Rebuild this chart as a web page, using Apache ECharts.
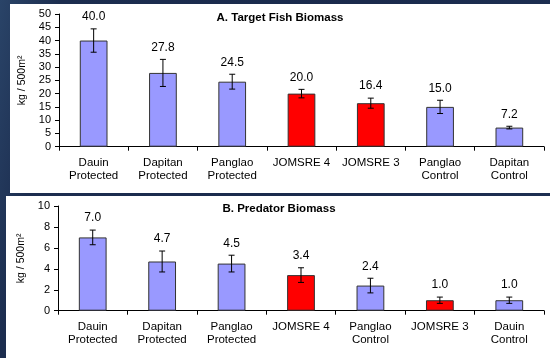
<!DOCTYPE html>
<html><head><meta charset="utf-8">
<script src="https://cdn.jsdelivr.net/npm/echarts@6/dist/echarts.min.js"></script>
<style>
html,body{margin:0;padding:0;width:550px;height:358px;overflow:hidden;
background:linear-gradient(100deg,#2a4468 0%,#1c2d4f 10%,#1a2a4c 60%,#1d2f52 100%);}
#c{width:550px;height:358px;}
</style></head><body><div id="c"></div>
<script>
const categoriesA = ['Dauin\nProtected','Dapitan\nProtected','Panglao\nProtected','JOMSRE 4','JOMSRE 3','Panglao\nControl','Dapitan\nControl'];
const valuesA = [40.0, 27.8, 24.5, 20.0, 16.4, 15.0, 7.2];
const errorsA = [4.4, 5.1, 2.8, 1.6, 1.9, 2.5, 0.5];
const redA = [false, false, false, true, true, false, false];

const categoriesB = ['Dauin\nProtected','Dapitan\nProtected','Panglao\nProtected','JOMSRE 4','Panglao\nControl','JOMSRE 3','Dauin\nControl'];
const valuesB = [7.0, 4.7, 4.5, 3.4, 2.4, 1.0, 1.0];
const errorsB = [0.7, 1.0, 0.8, 0.7, 0.7, 0.3, 0.3];
const redB = [false, false, false, true, false, true, false];

const ticksA = {min: 0, max: 50, interval: 5};
const ticksB = {min: 0, max: 10, interval: 2};

const FONT = '"Liberation Sans", Arial, sans-serif';
const BLUE = '#9999ff', RED = '#ff0000';

function barData(vals, red){
  return vals.map((v,i)=>({value:v,itemStyle:{color: red[i]?RED:BLUE}}));
}
function errData(vals, errs){
  return vals.map((v,i)=>[i, v, errs[i]]);
}
function renderErr(params, api){
  const i = api.value(0), v = api.value(1), e = api.value(2);
  const top = api.coord([i, v+e]);
  const bot = api.coord([i, v-e]);
  const cap = 3;
  const ls = {stroke:'#000', lineWidth:1};
  return {type:'group', children:[
    {type:'line', shape:{x1:top[0],y1:top[1],x2:bot[0],y2:bot[1]}, style:ls},
    {type:'line', shape:{x1:top[0]-cap,y1:top[1],x2:top[0]+cap,y2:top[1]}, style:ls},
    {type:'line', shape:{x1:bot[0]-cap,y1:bot[1],x2:bot[0]+cap,y2:bot[1]}, style:ls},
    {type:'text', style:{text:v.toFixed(1), x:top[0], y:top[1]-12, align:'center', verticalAlign:'middle',
      font:'12px '+FONT, fill:'#000'}}
  ]};
}
function xAx(cats, gi){
  return {type:'category', gridIndex:gi, data:cats,
    axisLine:{lineStyle:{color:'#000',width:1}},
    axisTick:{show:true, alignWithLabel:false, length:4, lineStyle:{color:'#000'}},
    axisLabel:{fontSize:11.5, fontFamily:FONT, color:'#000', margin:10, lineHeight:13, interval:0}};
}
function yAx(t, gi){
  return {type:'value', gridIndex:gi, min:t.min, max:t.max, interval:t.interval,
    name:'kg / 500m²', nameLocation:'middle', nameGap:28, nameRotate:90,
    nameTextStyle:{fontSize:10.5, fontFamily:FONT, color:'#000'},
    splitLine:{show:false},
    axisLine:{show:true, lineStyle:{color:'#000',width:1}},
    axisTick:{show:true, length:4, lineStyle:{color:'#000'}},
    axisLabel:{fontSize:11, fontFamily:FONT, color:'#000', margin:8}};
}
const chart = echarts.init(document.getElementById('c'), null, {renderer:'canvas'});
chart.setOption({
  animation:false,
  backgroundColor:'transparent',
  graphic:[
    {type:'rect', z:-10, shape:{x:10,y:4,width:540,height:189}, style:{fill:'#fff'}},
    {type:'rect', z:-10, shape:{x:6,y:196,width:544,height:162}, style:{fill:'#fff'}},
    {type:'text', style:{text:'A. Target Fish Biomass', x:280, y:18, align:'center', verticalAlign:'middle', font:'bold 11.5px '+FONT, fill:'#000'}},
    {type:'text', style:{text:'B. Predator Biomass', x:279, y:209, align:'center', verticalAlign:'middle', font:'bold 11.5px '+FONT, fill:'#000'}}
  ],
  grid:[
    {left:59, right:6, top:14, height:132.7},
    {left:58, right:6, top:206, height:104.7}
  ],
  xAxis:[xAx(categoriesA,0), xAx(categoriesB,1)],
  yAxis:[yAx(ticksA,0), yAx(ticksB,1)],
  series:[
    {type:'bar', xAxisIndex:0, yAxisIndex:0, data:barData(valuesA,redA), barWidth:'40%',
      itemStyle:{borderColor:'#333', borderWidth:1}},
    {type:'custom', xAxisIndex:0, yAxisIndex:0, data:errData(valuesA,errorsA), renderItem:renderErr, z:5},
    {type:'bar', xAxisIndex:1, yAxisIndex:1, data:barData(valuesB,redB), barWidth:'40%',
      itemStyle:{borderColor:'#333', borderWidth:1}},
    {type:'custom', xAxisIndex:1, yAxisIndex:1, data:errData(valuesB,errorsB), renderItem:renderErr, z:5}
  ]
});
</script></body></html>
